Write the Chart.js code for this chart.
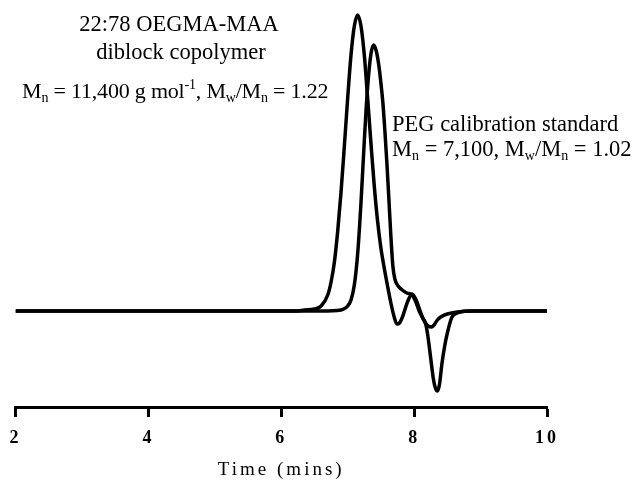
<!DOCTYPE html>
<html>
<head>
<meta charset="utf-8">
<script src="https://cdn.jsdelivr.net/npm/chart.js@4/dist/chart.umd.min.js"></script>
<style>
  body { margin: 0; background: #fff; }
  #wrap { position: relative; width: 636px; height: 480px; }
  .note { position: absolute; font-family: "Liberation Serif", serif; font-size: 22.5px; color: #000; line-height: 1; white-space: nowrap; }
  .note sub { font-size: 14px; vertical-align: -4px; }
  .note sup { font-size: 14px; vertical-align: 9px; }
</style>
</head>
<body>
<div id="wrap">
  <canvas id="myChart" width="636" height="480"></canvas>
  <div class="note" style="left:69px; top:13px; width:220px; text-align:center;">22:78 OEGMA-MAA</div>
  <div class="note" style="left:71px; top:41px; width:220px; text-align:center;">diblock copolymer</div>
  <div class="note" style="left:22px; top:78px; font-size:22px; letter-spacing:-0.2px;">M<sub>n</sub> = 11,400 g mol<sup>-1</sup>, M<sub>w</sub>/M<sub>n</sub> = 1.22</div>
  <div class="note" style="left:392px; top:113px;">PEG calibration standard</div>
  <div class="note" style="left:392px; top:138px;">M<sub>n</sub> = 7,100, M<sub>w</sub>/M<sub>n</sub> = 1.02</div>
</div>
<script>
// copolymer trace (elutes first)
let timeA = [2.0, 6.2, 6.35, 6.5, 6.6, 6.7, 6.75, 6.8, 6.85, 6.9, 6.95, 7.0, 7.05, 7.1, 7.15, 7.2, 7.25, 7.3, 7.35, 7.4, 7.45, 7.5, 7.55, 7.6, 7.65, 7.7, 7.74, 7.78, 7.83, 7.9, 7.97, 8.03, 8.08, 8.13, 8.17, 8.21, 8.26, 8.3, 8.35, 8.4, 8.5, 8.65, 8.9, 10.0];
let signalA = [0, 0, 1, 2, 5, 16, 29, 49, 80, 119, 165, 213, 256, 285, 296, 285, 256, 213, 168, 125, 90, 63, 43, 25, 8, -6, -13, -12, -5, 9, 17, 11, 2, -7, -12, -15, -16, -14, -9, -6, -3, -1, 0, 0];
// PEG standard trace
let timeB = [2.0, 6.6, 6.9, 7.0, 7.05, 7.1, 7.15, 7.2, 7.25, 7.3, 7.35, 7.39, 7.43, 7.47, 7.5, 7.53, 7.56, 7.59, 7.62, 7.65, 7.68, 7.71, 7.76, 7.82, 7.89, 7.97, 8.02, 8.07, 8.12, 8.17, 8.2, 8.24, 8.29, 8.32, 8.35, 8.38, 8.42, 8.46, 8.5, 8.57, 8.65, 8.8, 10.0];
let signalB = [0, 0, 1, 5, 11, 26, 57, 108, 170, 224, 257, 266, 260, 245, 228, 208, 180, 148, 112, 75, 45, 32, 25, 21, 18, 16, 10, 1, -6, -12, -22, -42, -68, -77, -80, -74, -52, -35, -22, -6, -2, 0, 0];
let xTicks = [2, 4, 6, 8, 10];

function toPoints(xs, ys) {
  return xs.map((x, i) => ({ x: x, y: ys[i] }));
}

let ctx = document.getElementById("myChart").getContext("2d");

let myChart = new Chart(ctx, {
  type: "line",
  data: {
    datasets: [
      {
        label: "22:78 OEGMA-MAA diblock copolymer",
        data: toPoints(timeA, signalA),
        borderColor: "#000",
        borderWidth: 3.5,
        pointRadius: 0,
        cubicInterpolationMode: "monotone",
      },
      {
        label: "PEG calibration standard",
        data: toPoints(timeB, signalB),
        borderColor: "#000",
        borderWidth: 3.5,
        pointRadius: 0,
        cubicInterpolationMode: "monotone",
      },
    ],
  },
  options: {
    responsive: false,
    animation: false,
    layout: { padding: { left: 15, right: 89, top: 8, bottom: 0 } },
    plugins: { legend: { display: false }, tooltip: { enabled: false } },
    scales: {
      x: {
        type: "linear",
        min: 2,
        max: 10,
        afterBuildTicks: (axis) => {
          axis.ticks = xTicks.map((v) => ({ value: v }));
        },
        afterFit: (axis) => {
          axis.height = 73;
        },
        border: { display: true, color: "#000", width: 3 },
        grid: { drawOnChartArea: false, drawTicks: true, tickLength: 10, tickWidth: 3, tickColor: "#000" },
        ticks: {
          color: "#000",
          padding: 11,
          maxRotation: 0,
          font: { family: "Liberation Serif", size: 18, weight: "bold" },
        },
        title: {
          display: true,
          text: "Time (mins)",
          color: "#000",
          padding: { top: 0, bottom: 0.5 },
          font: { family: "Liberation Serif", size: 19, lineHeight: 1 },
        },
      },
      y: {
        display: false,
        min: -96,
        max: 303,
      },
    },
  },
  plugins: [
    {
      id: "spacing",
      beforeDraw: (chart) => {
        chart.ctx.letterSpacing = "3px";
      },
    },
  ],
});
</script>
</body>
</html>
